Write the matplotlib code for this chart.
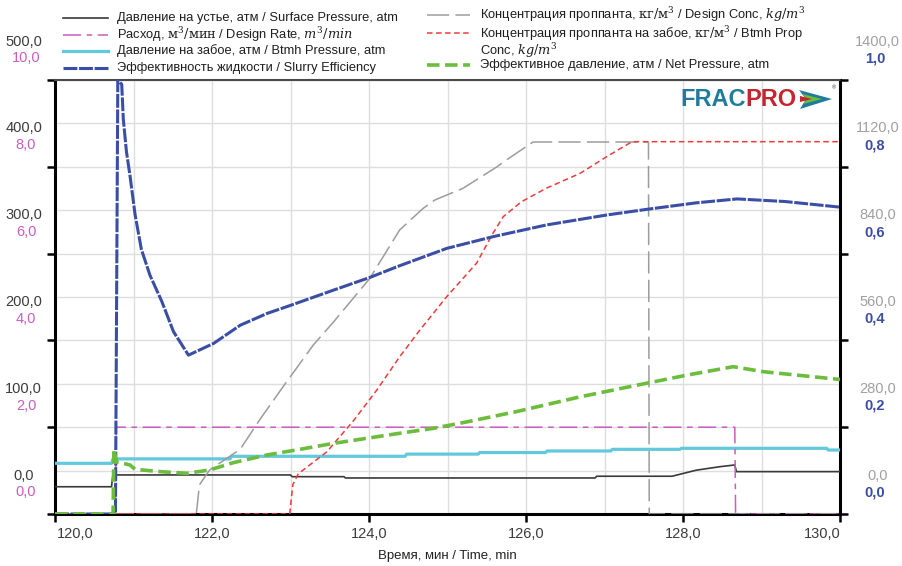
import numpy as np
import matplotlib
matplotlib.use("Agg")
import matplotlib.pyplot as plt
from matplotlib.lines import Line2D
from matplotlib.patches import Polygon
from matplotlib.transforms import ScaledTranslation

# -----------------------------------------------------------------------------
# Data
# -----------------------------------------------------------------------------
surf_t = [120.0, 120.72, 120.74, 120.78, 123.0, 123.02, 123.68, 123.70,
          126.88, 126.90, 127.86, 128.17, 128.47, 128.66, 128.68, 130.0]
surf_p = [31.4, 31.4, 47.0, 45.0, 45.0, 43.0, 43.0, 41.5,
          41.5, 43.5, 43.5, 50.5, 54.5, 56.5, 48.8, 48.8]

rate_t = [120.0, 120.77, 120.78, 128.66, 128.67, 130.0]
rate_q = [0.0, 0.0, 2.0, 2.0, 0.0, 0.0]

btmh_t = [120.0, 120.72, 120.74, 122.23, 122.25, 124.46, 124.48, 125.39, 125.41,
          126.25, 126.27, 127.08, 127.10, 127.96, 127.98, 129.83, 129.85, 130.0]
btmh_p = [58.4, 58.4, 63.5, 63.5, 66.5, 66.5, 69.0, 69.0, 70.8,
          70.8, 72.6, 72.6, 74.5, 74.5, 75.7, 75.7, 73.7, 73.7]

eff_t = [120.0, 120.77, 120.80, 120.85, 120.87, 120.91, 120.955, 121.02, 121.10,
         121.21, 121.36, 121.51, 121.70, 122.02, 122.36, 122.70, 123.02, 123.55,
         124.01, 124.39, 124.99, 125.58, 126.26, 127.03, 127.54, 128.17, 128.69,
         129.30, 130.0]
eff_v = [0.0, 0.0, 1.0, 0.99, 0.91, 0.835, 0.78, 0.69, 0.61,
         0.55, 0.49, 0.42, 0.366, 0.393, 0.435, 0.462, 0.482, 0.516,
         0.545, 0.572, 0.612, 0.639, 0.666, 0.689, 0.702, 0.717, 0.726,
         0.72, 0.707]

dconc_t = [120.0, 121.80, 121.84, 121.97, 122.36, 122.61, 122.89, 123.29, 123.55,
           124.01, 124.39, 124.69, 124.84, 125.20, 125.63, 125.75, 126.09, 127.56,
           127.57, 130.0]
dconc_v = [0, 0, 94, 142, 209, 305, 405, 545, 620,
           760, 916, 986, 1013, 1051, 1120, 1142, 1200, 1200,
           0, 0]

rconc_t = [120.0, 122.99, 123.03, 123.10, 123.46, 123.80, 124.10, 124.39, 124.65,
           124.99, 125.37, 125.58, 125.71, 125.94, 126.26, 126.69, 127.03, 127.35,
           130.0]
rconc_v = [0, 0, 95, 130, 200, 300, 400, 507, 594,
           701, 809, 906, 959, 1007, 1051, 1099, 1153, 1201,
           1201]

net_t = [120.0, 120.74, 120.75, 120.78, 120.87, 120.955, 121.02, 121.34, 121.68,
         121.97, 122.27, 122.70, 123.12, 123.55, 123.97, 124.39, 124.82, 125.24,
         125.88, 126.69, 127.32, 128.05, 128.64, 129.02, 129.45, 130.0]
net_p = [0, 0, 75, 60, 58.4, 56.5, 51.5, 48.8, 46.9,
         50.7, 59.1, 68, 74.5, 81.4, 87.2, 93, 98.7, 106,
         118, 135, 146.7, 160, 169.7, 164, 160, 155]

press_ticks = [0, 100, 200, 300, 400, 500]
press_labels = ["0,0", "100,0", "200,0", "300,0", "400,0", "500,0"]
rate_ticks = [0, 2, 4, 6, 8, 10]
rate_labels = ["0,0", "2,0", "4,0", "6,0", "8,0", "10,0"]
conc_ticks = [0, 280, 560, 840, 1120, 1400]
conc_labels = ["0,0", "280,0", "560,0", "840,0", "1120,0", "1400,0"]
eff_ticks = [0, 0.2, 0.4, 0.6, 0.8, 1.0]
eff_labels = ["0,0", "0,2", "0,4", "0,6", "0,8", "1,0"]
time_ticks = [120, 122, 124, 126, 128, 130]
time_labels = ["120,0", "122,0", "124,0", "126,0", "128,0", "130,0"]

# -----------------------------------------------------------------------------
# Styles
# -----------------------------------------------------------------------------
plt.rcParams['font.family'] = ['Liberation Sans', 'DejaVu Sans']
plt.rcParams['mathtext.fontset'] = 'dejavuserif'
plt.rcParams['lines.scale_dashes'] = False

C_SURF = '#3a3a3a'
C_RATE = '#cc5cc0'
C_BTMH = '#62c8dc'
C_EFF = '#3a4ea6'
C_DCONC = '#9c9c9c'
C_RCONC = '#f03a3a'
C_NET = '#6cbd3e'

STY = {
    'surf': dict(color=C_SURF, lw=1.2, ls='-'),
    'rate': dict(color=C_RATE, lw=1.1, dashes=(13, 4, 4, 4)),
    'btmh': dict(color=C_BTMH, lw=2.3, ls='-'),
    'eff': dict(color=C_EFF, lw=2.2, dashes=(10, 1.2)),
    'dconc': dict(color=C_DCONC, lw=1.1, dashes=(16, 4.5)),
    'rconc': dict(color=C_RCONC, lw=1.1, dashes=(4, 2.5)),
    'net': dict(color=C_NET, lw=2.6, dashes=(9, 4)),
}

W, H = 902, 566
TICK_FS = 10.5


def fx(px):
    return px / W


def fy(py):
    return 1 - py / H


def shift(labels, dx_px, dy_px, fig):
    """ Move tick labels by some pixels. """
    off = ScaledTranslation(dx_px / 100.0, dy_px / 100.0, fig.dpi_scale_trans)
    for lab in labels:
        lab.set_transform(lab.get_transform() + off)


fig = plt.figure(figsize=(9.02, 5.66), dpi=100)
ax = fig.add_axes([fx(55), 52 / H, 785 / W, 434 / H])
ax_rate = ax.twinx()
ax_conc = ax.twinx()
ax_eff = ax.twinx()

ax.set_xlim(120, 130)
ax.set_ylim(0, 500)
ax_rate.set_ylim(0, 10)
ax_conc.set_ylim(0, 1400)
ax_eff.set_ylim(0, 1.0)

# grid
ax.set_xticks(np.arange(120, 131, 1), minor=True)
ax.set_yticks(np.arange(0, 501, 50), minor=True)
ax.grid(True, which='both', color='#dedede', lw=1.0)
ax.set_axisbelow(True)

# series
ax.plot(surf_t, surf_p, zorder=3, **STY['surf'])
ax_rate.plot(rate_t, rate_q, zorder=3, **STY['rate'])
ax.plot(btmh_t, btmh_p, zorder=4, **STY['btmh'])
ax_conc.plot(dconc_t, dconc_v, zorder=3, **STY['dconc'])
ax_conc.plot(rconc_t, rconc_v, zorder=3, **STY['rconc'])
ax_eff.plot(eff_t, eff_v, zorder=3, **STY['eff'])
ax_eff.plot(net_t, np.array(net_p) / 500.0, zorder=4, **STY['net'])

# spines
for a in (ax_rate, ax_conc, ax_eff):
    for s in a.spines.values():
        s.set_visible(False)
for s in ('left', 'bottom', 'right'):
    ax.spines[s].set_linewidth(2.2)
    ax.spines[s].set_color('black')
ax.spines['right'].set_visible(True)
ax.spines['top'].set_color('#4a4a4a')
ax.spines['top'].set_linewidth(1.5)

# ticks
ax.set_xticks(time_ticks)
ax.set_xticklabels(time_labels)
ax.set_yticks(press_ticks)
ax.set_yticklabels(press_labels)
ax.tick_params(which='minor', length=0)
ax.tick_params(axis='both', which='major', direction='out', length=6, width=1.8,
               labelsize=TICK_FS, labelcolor='#3c3c3c')
ax.tick_params(axis='y', which='major', pad=16.5)
ax.tick_params(axis='x', which='major', pad=3)
for lab in ax.get_yticklabels():
    lab.set_ha('center')
shift(ax.get_yticklabels(), 0, 40, fig)
xl = ax.get_xticklabels()
shift([xl[0]], 20, 0, fig)
shift([xl[-1]], -18, 0, fig)

ax_rate.yaxis.tick_left()
ax_rate.set_yticks(rate_ticks)
ax_rate.set_yticklabels(rate_labels)
ax_rate.tick_params(axis='y', length=0, pad=20.9, labelsize=TICK_FS, labelcolor=C_RATE)
for lab in ax_rate.get_yticklabels():
    lab.set_ha('center')
shift(ax_rate.get_yticklabels(), 0, 23, fig)

ax_conc.set_yticks(conc_ticks)
ax_conc.set_yticklabels(conc_labels)
ax_conc.tick_params(axis='y', direction='out', length=6, width=1.8, color='black',
                    pad=20.9, labelsize=TICK_FS, labelcolor='#a0a0a0')
for lab in ax_conc.get_yticklabels():
    lab.set_ha('center')
shift(ax_conc.get_yticklabels(), 0, 40, fig)

ax_eff.set_yticks(eff_ticks)
ax_eff.set_yticklabels(eff_labels)
ax_eff.tick_params(axis='y', length=0, pad=25.2, labelsize=TICK_FS, labelcolor=C_EFF)
for lab in ax_eff.get_yticklabels():
    lab.set_ha('center')
    lab.set_fontweight('bold')
shift(ax_eff.get_yticklabels(), 0, 23, fig)

ax.set_xlabel('Время, мин / Time, min', fontsize=9.5, color='#222222', labelpad=7)

# -----------------------------------------------------------------------------
# Legend (drawn by hand, two columns above the plot)
# -----------------------------------------------------------------------------
legend_left = [
    ('surf', 18.3, 'Давление на устье, атм / Surface Pressure, atm'),
    ('rate', 34.5, r'Расход, $\mathrm{м}^3/\mathrm{мин}$ / Design Rate, $m^3/min$'),
    ('btmh', 50.7, 'Давление на забое, атм / Btmh Pressure, atm'),
    ('eff', 67.7, 'Эффективность жидкости / Slurry Efficiency'),
]
legend_right = [
    ('dconc', 14.8, r'Концентрация проппанта, $\mathrm{кг}/\mathrm{м}^3$ / Design Conc, $kg/m^3$'),
    ('rconc', 33.2, r'Концентрация проппанта на забое, $\mathrm{кг}/\mathrm{м}^3$ / Btmh Prop'),
    (None, 50.6, r'Conc, $kg/m^3$'),
    ('net', 65.0, 'Эффективное давление, атм / Net Pressure, atm'),
]
for entries, x0, x1, xt in ((legend_left, 63, 108, 117), (legend_right, 427, 470, 480)):
    for key, yy, txt in entries:
        if key is not None:
            fig.add_artist(Line2D([fx(x0), fx(x1)], [fy(yy), fy(yy)],
                                  transform=fig.transFigure, **STY[key]))
        fig.text(fx(xt), fy(yy), txt, fontsize=9.3, color='#1e1e1e',
                 ha='left', va='center')

# -----------------------------------------------------------------------------
# FRACPRO logo
# -----------------------------------------------------------------------------
fig.text(fx(680), fy(99), 'FRAC', fontsize=17, fontweight='bold',
         color='#1f7c9c', ha='left', va='center')
fig.text(fx(745), fy(99), 'PRO', fontsize=17, fontweight='bold',
         color='#c4262e', ha='left', va='center')


def px_poly(pts, color):
    fig.add_artist(Polygon([(fx(a), fy(b)) for a, b in pts], closed=True,
                           transform=fig.transFigure, facecolor=color,
                           edgecolor='none'))


px_poly([(799, 90), (832, 99), (800, 109), (806, 99)], '#1f7c9c')
px_poly([(802, 94), (822, 99), (803, 104), (807, 99)], '#6cbd3e')
px_poly([(800, 96), (812, 99), (800, 102)], '#c4262e')
fig.text(fx(834), fy(88), '®', fontsize=4, color='#333333', ha='center', va='center')

fig.savefig('out.png', dpi=100)
